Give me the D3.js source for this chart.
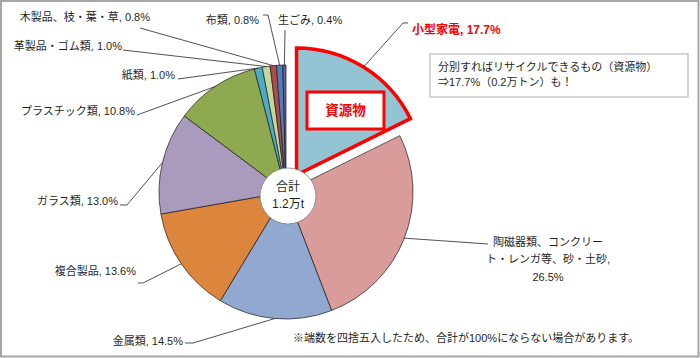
<!DOCTYPE html>
<html><head><meta charset="utf-8">
<script src="https://cdn.jsdelivr.net/npm/d3@7"></script>
<style>
html,body{margin:0;padding:0;background:#fff;}
svg{display:block;font-family:"Liberation Sans","Noto Sans CJK JP",sans-serif;}
</style></head>
<body><svg id="c" width="700" height="358"></svg>
<script>
// ---- data ----
const categories = ["小型家電","陶磁器類、コンクリート・レンガ等、砂・土砂","金属類","複合製品","ガラス類","プラスチック類","紙類","革製品・ゴム類","木製品、枝・葉・草","布類","生ごみ"];
const values = [17.7, 26.5, 14.5, 13.6, 13.0, 10.8, 1.0, 1.0, 0.8, 0.8, 0.4];
const colors = ["#93C4D4","#DA9C9B","#91A9D0","#DB853D","#A99ABE","#8EA94F","#4BACC6","#C3D69B","#B04B49","#4F7FBE","#6B5C9F"];
const labelLines = [
  ["小型家電, 17.7%"],
  ["陶磁器類、コンクリー","ト・レンガ等、砂・土砂,","26.5%"],
  ["金属類, 14.5%"],["複合製品, 13.6%"],["ガラス類, 13.0%"],["プラスチック類, 10.8%"],
  ["紙類, 1.0%"],["革製品・ゴム類, 1.0%"],["木製品、枝・葉・草, 0.8%"],["布類, 0.8%"],["生ごみ, 0.4%"]
];
const totalLines = ["合計","1.2万t"];
const calloutLines = ["分別すればリサイクルできるもの（資源物）","⇒17.7%（0.2万トン）も！"];
const highlightText = "資源物";
const footnote = "※端数を四捨五入したため、合計が100%にならない場合があります。";

// ---- layout (positions only) ----
const W=700,H=358, cx=286, cy=192, R=127, explode=20;
// label anchor positions and leader start polylines
const labelLayout = [
  {x:412,y:30,anchor:"start",lead:[[408,23],[403,23]]},
  {x:548,y:242,anchor:"middle",lead:[[488,244]],lh:17.5},
  {x:183,y:341,anchor:"end",lead:[[185,343],[193,343]]},
  {x:136,y:271,anchor:"end",lead:[[138,283],[143,283]]},
  {x:118,y:201,anchor:"end",lead:[[120,205],[127,205]]},
  {x:135,y:111,anchor:"end",lead:[[137,115]]},
  {x:175,y:75,anchor:"end",lead:[[178,79]]},
  {x:122,y:46,anchor:"end",lead:[[123,50]]},
  {x:150,y:17.5,anchor:"end",lead:[[140,28]]},
  {x:259,y:20,anchor:"end",lead:[[263,15],[268,15]]},
  {x:278,y:20,anchor:"start",lead:[[285,30]]}
];

const svg=d3.select("#c");
svg.append("rect").attr("x",1).attr("y",1).attr("width",W-2.5).attr("height",H-2.5)
  .attr("fill","#fff").attr("stroke","#a6a6a6").attr("stroke-width",2);

const data = values.map((v,i)=>({name:categories[i],value:v,color:colors[i],i}));
const pie = d3.pie().value(d=>d.value).sort(null);
const arcs = pie(data);
const arc = d3.arc().innerRadius(0).outerRadius(R);

const g = svg.append("g");
arcs.forEach((a,i)=>{
  const mid=(a.startAngle+a.endAngle)/2;
  const ox = i===0 ? explode*Math.sin(mid) : 0;
  const oy = i===0 ? -explode*Math.cos(mid) : 0;
  g.append("path").attr("d",arc(a))
    .attr("transform",`translate(${cx+ox},${cy+oy})`)
    .attr("fill",a.data.color)
    .attr("stroke", i===0 ? "#FF0000" : "#1a1a1a")
    .attr("stroke-width", i===0 ? 3.5 : 0.7)
    .attr("stroke-linejoin","miter");
  a.ox=ox; a.oy=oy; a.mid=mid;
});

// leader lines
arcs.forEach((a,i)=>{
  const L=labelLayout[i];
  const ex = cx+a.ox+R*Math.sin(a.mid), ey = cy+a.oy-R*Math.cos(a.mid);
  const pts = L.lead.concat([[ex,ey]]);
  svg.append("path").attr("d",d3.line()(pts)).attr("fill","none")
    .attr("stroke","#262626").attr("stroke-width",0.8);
});

// labels
arcs.forEach((a,i)=>{
  const L=labelLayout[i];
  const lines=labelLines[i];
  const lh=L.lh||14;
  const t=svg.append("text").attr("text-anchor",L.anchor)
    .attr("font-size", i===0?12:11)
    .attr("font-weight", i===0?"bold":"normal")
    .attr("fill", i===0?"#FF0000":"#1f1f1f");
  lines.forEach((s,k)=>{
    t.append("tspan").attr("x",L.x).attr("y",L.y+k*lh).attr("dy","0.36em").text(s);
  });
});

// highlight box inside exploded slice
svg.append("rect").attr("x",307).attr("y",92).attr("width",77).attr("height",37)
  .attr("fill","#fff").attr("stroke","#FF0000").attr("stroke-width",3);
svg.append("text").attr("x",345.5).attr("y",110.5).attr("dy","0.36em").attr("text-anchor","middle")
  .attr("font-size",13.5).attr("font-weight","bold").attr("fill","#FF0000").text(highlightText);

// center total circle
svg.append("circle").attr("cx",288).attr("cy",196).attr("r",28)
  .attr("fill","#fff").attr("stroke","#7f7f7f").attr("stroke-width",0.8);
totalLines.forEach((s,k)=>{
  svg.append("text").attr("x",288).attr("y",187+k*16.5).attr("dy","0.36em").attr("text-anchor","middle")
    .attr("font-size",12).attr("fill","#1f1f1f").text(s);
});

// callout box
svg.append("rect").attr("x",430).attr("y",54).attr("width",258).attr("height",43)
  .attr("fill","#fff").attr("stroke","#c9c9c9").attr("stroke-width",1.5);
calloutLines.forEach((s,k)=>{
  svg.append("text").attr("x",438).attr("y",67+k*15).attr("dy","0.36em")
    .attr("font-size",11).attr("fill","#1f1f1f").text(s);
});

// footnote
svg.append("text").attr("x",293).attr("y",338).attr("dy","0.36em")
  .attr("font-size",11).attr("fill","#1f1f1f").text(footnote);
</script></body></html>
